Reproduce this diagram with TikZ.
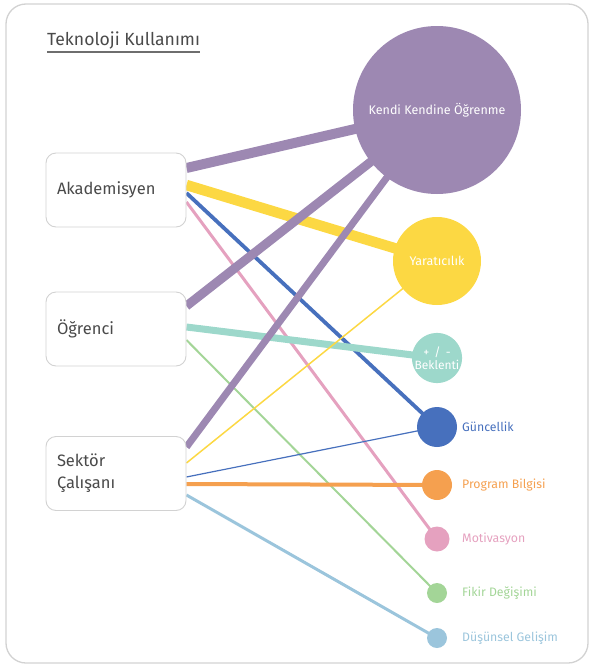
\documentclass[tikz,border=0pt]{standalone}
\usepackage{fontspec}
\setmainfont{Fira Sans}
\usetikzlibrary{backgrounds}
\definecolor{cpurple}{HTML}{9D88B2}
\definecolor{cyellow}{HTML}{FCD843}
\definecolor{cteal}{HTML}{9DD8CB}
\definecolor{cblue}{HTML}{4770BD}
\definecolor{corange}{HTML}{F5A04F}
\definecolor{cpink}{HTML}{E5A1BF}
\definecolor{cgreen}{HTML}{A3D597}
\definecolor{clblue}{HTML}{9BC5DC}
\definecolor{ctext}{HTML}{4A4A4A}
\definecolor{cframe}{HTML}{D2D2D2}
\begin{document}
\begin{tikzpicture}[x=1pt,y=-1pt,
  role/.style={draw=cframe, line width=0.9pt, fill=white, rounded corners=10pt,
    minimum width=140pt, minimum height=74pt, text width=118pt, align=left,
    inner xsep=11pt, font=\fontsize{16.5}{22}\selectfont, text=ctext},
  bubble/.style={circle, inner sep=0pt, fill=#1, text=white},
  tag/.style={anchor=west, inner sep=0pt, font=\fontsize{12.3}{14}\selectfont, text=#1},
  link/.style={draw=#1, line cap=butt}]
\useasboundingbox (0,0) rectangle (591,667);

% title and its rule
\node[anchor=base west, inner sep=0pt, text=ctext, font=\fontsize{17.6}{20}\selectfont] (title) at (47,45) {Teknoloji Kullanımı};
\draw[ctext!80, line width=1.2pt] ([yshift=-7pt]title.base west) -- ([yshift=-7pt]title.base east);

% user groups
\node[role] (aka) at (116,190) {Akademisyen};
\node[role] (ogr) at (116,329) {Öğrenci};
\node[role] (sek) at (116,473.5) {Sektör\\Çalışanı};

% outcomes
\node[bubble=cpurple, minimum size=168pt, font=\fontsize{12.5}{14}\selectfont] (kko) at (437,110) {Kendi Kendine Öğrenme};
\node[bubble=cyellow, minimum size=88pt, font=\fontsize{12.5}{14}\selectfont] (yar) at (437,261) {Yaratıcılık};
\node[bubble=cteal, minimum size=50pt, align=center, font=\fontsize{12}{13}\selectfont] (bek) at (437,358) {+ \,/\, -\\Beklenti};
\node[bubble=cblue, minimum size=40pt] (gun) at (437,427) {};
\node[bubble=corange, minimum size=30pt] (prg) at (437,485) {};
\node[bubble=cpink, minimum size=25pt] (mot) at (437,539) {};
\node[bubble=cgreen, minimum size=20pt] (fik) at (437,593) {};
\node[bubble=clblue, minimum size=20pt] (dus) at (437,638) {};

\node[tag=cblue] (lgun) at (462,427) {Güncellik};
\node[tag=corange] (lprg) at (462,485) {Program Bilgisi};
\node[tag=cpink] (lmot) at (462,539) {Motivasyon};
\node[tag=cgreen] (lfik) at (462,593) {Fikir Değişimi};
\node[tag=clblue] (ldus) at (462,638) {Düşünsel Gelişim};

\begin{pgfonlayer}{background}
  % outer frame
  \draw[cframe, line width=1.3pt, rounded corners=20pt] (6,4) rectangle (588,663);
  % Akademisyen
  \draw[link=cpurple, line width=10pt] ([yshift=22pt]aka.east) -- (kko.center);
  \draw[link=cyellow, line width=10.5pt] ([yshift=5pt]aka.east) -- (yar.center);
  \draw[link=cblue, line width=3.8pt] ([yshift=-3pt]aka.east) -- (gun.center);
  \draw[link=cpink, line width=3pt] ([yshift=-12pt]aka.east) -- (mot.center);
  % Ogrenci
  \draw[link=cpurple, line width=9pt] ([yshift=23pt]ogr.east) -- (kko.center);
  \draw[link=cteal, line width=7pt] ([yshift=2pt]ogr.east) -- (bek.center);
  \draw[link=cgreen, line width=2pt] ([yshift=-11pt]ogr.east) -- (fik.center);
  % Sektor calisani
  \draw[link=cpurple, line width=7pt] ([yshift=26.5pt]sek.east) -- (kko.center);
  \draw[link=cyellow, line width=1.5pt] ([yshift=10.5pt]sek.east) -- (yar.center);
  \draw[link=cblue, line width=1.2pt] ([yshift=-3.5pt]sek.east) -- (gun.center);
  \draw[link=corange, line width=4pt] ([yshift=-10.5pt]sek.east) -- (prg.center);
  \draw[link=clblue, line width=3pt] ([yshift=-21.5pt]sek.east) -- (dus.center);
\end{pgfonlayer}
\end{tikzpicture}
\end{document}
